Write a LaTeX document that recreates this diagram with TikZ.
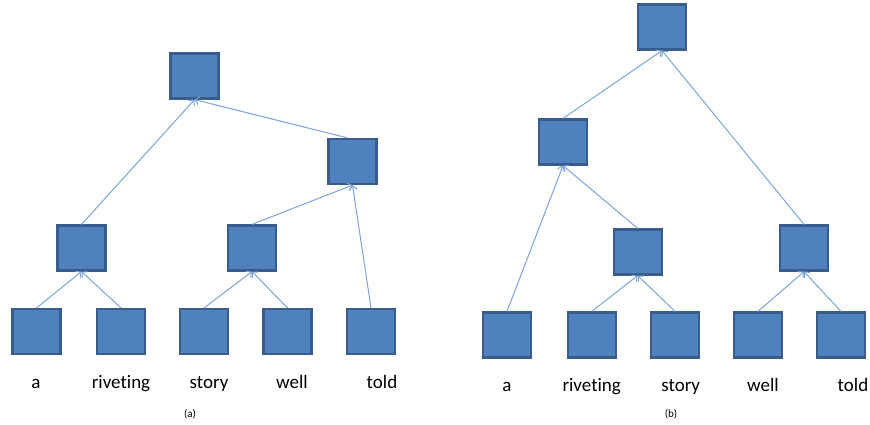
\documentclass[tikz,border=0pt]{standalone}
\usepackage{fontspec}
\setmainfont[Ligatures={NoCommon}]{Carlito}
\usetikzlibrary{arrows.meta}
\definecolor{boxfill}{HTML}{4F81BD}
\definecolor{boxline}{HTML}{385D8A}
\definecolor{edgecol}{HTML}{7EA4D6}
\begin{document}
\begin{tikzpicture}[x=1pt,y=-1pt,
  box/.style={draw=boxline,fill=boxfill,line width=2.2pt,minimum width=48pt,minimum height=45pt,inner sep=0pt},
  edge/.style={draw=edgecol,line width=1pt,-{Straight Barb[length=4pt,width=8pt]}},
  word/.style={font=\fontsize{19}{22}\selectfont,inner sep=0pt,anchor=base},
  captext/.style={font=\fontsize{11}{13}\selectfont,inner sep=0pt}]
\useasboundingbox (0,0) rectangle (870,424);
% ---------- (a) ----------
\node[box] (ar)  at (194.5,76) {};
\node[box] (ari) at (352.5,161.5) {};
\node[box] (ali) at (81.5,248) {};
\node[box] (ami) at (252,248) {};
\node[box] (al1) at (36.5,331.5) {};
\node[box] (al2) at (121,331.5) {};
\node[box] (al3) at (204,331.5) {};
\node[box] (al4) at (287.5,331.5) {};
\node[box] (al5) at (371,331.5) {};
\node[word] (aw1) at (36,388) {a};
\node[word] (aw2) at (121,388) {riveting};
\node[word] (aw3) at (209,388) {story};
\node[word] (aw4) at (292,388) {well};
\node[word] (aw5) at (382,388) {told};
\node[captext] (acap) at (190,414) {(a)};
\draw[edge] (ali.north) -- (ar.south);
\draw[edge] ([xshift=-5pt]ari.north) -- (ar.south);
\draw[edge] (ami.north) -- (ari.south);
\draw[edge] (al5.north) -- (ari.south);
\draw[edge] (al1.north) -- (ali.south);
\draw[edge] (al2.north) -- (ali.south);
\draw[edge] (al3.north) -- (ami.south);
\draw[edge] (al4.north) -- (ami.south);
% ---------- (b) ----------
\node[box] (br)  at (662,27) {};
\node[box] (bli) at (563,142) {};
\node[box] (bmi) at (637.7,252) {};
\node[box] (bri) at (804,248) {};
\node[box] (bl1) at (507,335) {};
\node[box] (bl2) at (591.7,335) {};
\node[box] (bl3) at (675,335) {};
\node[box] (bl4) at (758,335) {};
\node[box] (bl5) at (841,335) {};
\node[word] (bw1) at (507,391) {a};
\node[word] (bw2) at (591.7,391) {riveting};
\node[word] (bw3) at (680.7,391) {story};
\node[word] (bw4) at (763,391) {well};
\node[word] (bw5) at (853,391) {told};
\node[captext] (bcap) at (671,414) {(b)};
\draw[edge] (bli.north) -- (br.south);
\draw[edge] (bri.north) -- (br.south);
\draw[edge] (bl1.north) -- (bli.south);
\draw[edge] (bmi.north) -- (bli.south);
\draw[edge] (bl2.north) -- (bmi.south);
\draw[edge] (bl3.north) -- (bmi.south);
\draw[edge] (bl4.north) -- (bri.south);
\draw[edge] (bl5.north) -- (bri.south);
\end{tikzpicture}
\end{document}
